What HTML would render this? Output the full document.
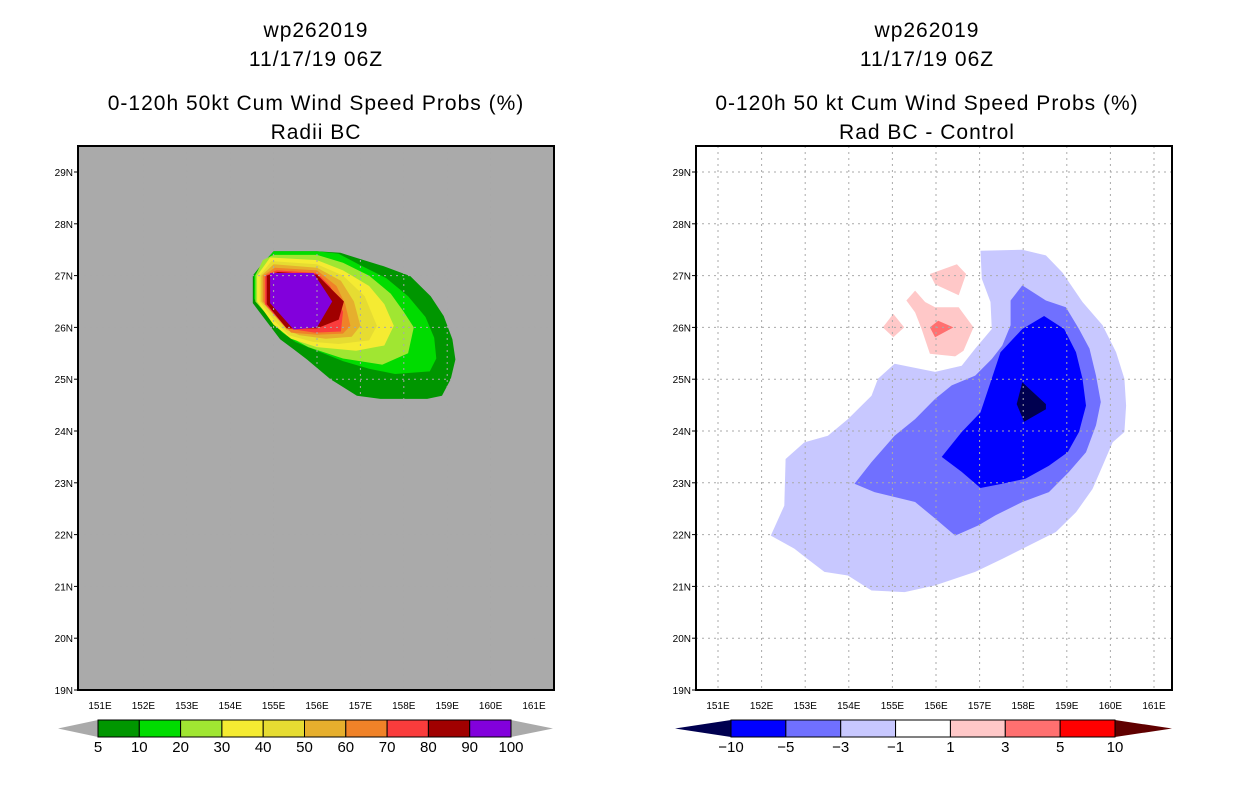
<!DOCTYPE html>
<html><head><meta charset="utf-8"><style>
body{margin:0;background:#fff;width:1236px;height:800px;overflow:hidden}
svg{display:block;font-family:"Liberation Sans",sans-serif}
</style></head><body>
<svg id="svg" width="1236" height="800" viewBox="0 0 1236 800"></svg>
<script>
const lonTicks=[151,152,153,154,155,156,157,158,159,160,161];
const latTicks=[19,20,21,22,23,24,25,26,27,28,29];
const leftLevels=['5','10','20','30','40','50','60','70','80','90','100'];
const leftColors=['#009600','#00dc00','#a0e632','#f5eb32','#e6dc32','#e6af2d','#f08228','#fa3c3c','#a00000','#8200dc'];
const rightLevels=['-10','-5','-3','-1','1','3','5','10'];
const rightColors=['#0000ff','#7070ff','#c8c8ff','#ffffff','#ffc8c8','#ff7070','#ff0000'];
const probShapes=[
 [[155.0,27.47],[156.0,27.47],[156.54,27.44],[156.92,27.34],[157.54,27.18],[158.15,26.99],[158.62,26.6],[158.92,26.22],[159.12,25.77],[159.19,25.38],[159.08,25.0],[158.88,24.68],[158.54,24.62],[157.46,24.62],[156.92,24.68],[156.31,25.0],[155.77,25.38],[155.46,25.58],[155.15,25.77],[154.69,26.28],[154.52,26.47],[154.52,27.0],[154.69,27.18]],
 [[155.0,27.47],[156.0,27.47],[156.5,27.42],[157.0,27.2],[157.6,26.95],[158.1,26.6],[158.5,26.2],[158.7,25.8],[158.75,25.4],[158.6,25.15],[157.8,25.1],[157.2,25.2],[156.6,25.35],[156.0,25.55],[155.5,25.72],[155.2,25.9],[154.7,26.4],[154.55,26.55],[154.55,27.0],[154.72,27.2]],
 [[154.75,27.3],[155.0,27.4],[156.0,27.4],[156.6,27.25],[157.2,27.0],[157.7,26.65],[158.0,26.3],[158.23,26.0],[158.1,25.5],[157.5,25.28],[156.6,25.4],[155.8,25.62],[155.3,25.85],[155.0,26.1],[154.58,26.5],[154.58,27.0]],
 [[154.92,27.35],[156.0,27.3],[156.6,27.1],[157.2,26.8],[157.55,26.45],[157.77,26.03],[157.55,25.65],[156.9,25.55],[156.0,25.62],[155.4,25.78],[155.0,26.05],[154.62,26.5],[154.62,27.0]],
 [[154.95,27.28],[156.0,27.22],[156.6,27.0],[157.1,26.6],[157.38,26.03],[157.2,25.75],[156.5,25.68],[155.9,25.72],[155.35,25.85],[155.05,26.1],[154.68,26.5],[154.68,27.0]],
 [[155.0,27.22],[156.0,27.15],[156.55,26.9],[156.85,26.5],[157.0,26.03],[156.8,25.82],[156.2,25.78],[155.6,25.85],[155.3,25.95],[155.1,26.15],[154.72,26.5],[154.72,27.0]],
 [[155.03,27.15],[156.0,27.1],[156.45,26.8],[156.65,26.45],[156.77,26.03],[156.6,25.88],[156.0,25.86],[155.4,25.9],[155.15,26.15],[154.76,26.5],[154.76,27.0]],
 [[155.07,27.1],[156.0,27.05],[156.3,26.8],[156.6,26.3],[156.55,25.92],[155.95,25.9],[155.3,25.98],[154.8,26.45],[154.8,27.0]],
 [[155.1,27.07],[156.0,27.02],[156.2,26.85],[156.62,26.5],[156.5,26.15],[156.0,25.98],[155.3,25.98],[154.84,26.45],[154.84,27.0]],
 [[154.92,27.05],[155.92,27.05],[156.35,26.5],[156.0,26.0],[155.46,25.96],[154.92,26.47]]
];
const diffShapes=[
 {c:'#c8c8ff',p:[[157.02,27.48],[157.98,27.5],[158.52,27.39],[158.9,27.06],[159.36,26.49],[159.82,26.04],[160.13,25.52],[160.32,25.01],[160.36,24.49],[160.32,23.98],[160.05,23.78],[159.82,23.33],[159.59,22.88],[159.21,22.43],[158.75,22.05],[158.13,21.79],[157.52,21.53],[156.9,21.28],[155.98,21.02],[155.28,20.89],[154.52,20.92],[153.98,21.21],[153.44,21.28],[153.05,21.53],[152.75,21.73],[152.21,21.98],[152.52,22.56],[152.55,23.46],[152.98,23.78],[153.52,23.91],[153.98,24.23],[154.52,24.68],[154.67,25.01],[155.05,25.3],[155.98,25.14],[156.59,25.26],[156.9,25.59],[157.28,25.97],[157.25,26.49],[157.05,26.94]]},
 {c:'#7070ff',p:[[157.98,26.81],[158.52,26.52],[158.98,26.39],[159.28,25.97],[159.52,25.59],[159.67,25.07],[159.78,24.56],[159.67,24.11],[159.44,23.59],[159.05,23.21],[158.59,22.82],[157.98,22.63],[157.36,22.37],[156.98,22.18],[156.44,21.98],[155.98,22.31],[155.52,22.63],[154.59,22.82],[154.13,22.98],[154.52,23.4],[155.05,23.91],[155.52,24.23],[155.98,24.62],[156.36,24.88],[156.9,25.07],[157.28,25.39],[157.52,25.65],[157.71,26.04],[157.71,26.52]]},
 {c:'#0000ff',p:[[158.48,26.22],[158.94,25.97],[159.21,25.52],[159.36,25.01],[159.44,24.49],[159.28,23.98],[159.02,23.59],[158.59,23.33],[158.05,23.08],[157.52,22.98],[157.02,22.9],[156.59,23.21],[156.13,23.5],[156.59,23.98],[157.02,24.36],[157.48,25.52],[157.98,25.97]]},
 {c:'#000050',p:[[157.98,24.94],[158.52,24.52],[158.52,24.42],[158.02,24.18],[157.85,24.52]]},
 {c:'#ffc8c8',p:[[155.86,27.03],[156.48,27.22],[156.69,27.03],[156.52,26.62],[155.98,26.83]]},
 {c:'#ffc8c8',p:[[155.32,26.52],[155.52,26.71],[155.75,26.49],[155.98,26.39],[156.52,26.39],[156.86,26.0],[156.63,25.55],[156.44,25.44],[155.86,25.49],[155.67,25.97],[155.52,26.29]]},
 {c:'#ffc8c8',p:[[154.78,26.0],[155.02,26.26],[155.27,26.0],[155.02,25.81]]},
 {c:'#ff7070',p:[[155.86,26.0],[156.05,26.13],[156.4,26.0],[155.98,25.81]]}
];
const NS='http://www.w3.org/2000/svg';
const svg=document.getElementById('svg');
function mk(tag,attrs,parent){const e=document.createElementNS(NS,tag);for(const k in attrs)e.setAttribute(k,attrs[k]);(parent||svg).appendChild(e);return e;}
function txt(x,y,s,size,anchor,parent){const t=mk('text',{x:x,y:y,'font-size':size,'text-anchor':anchor||'middle',fill:'#000'},parent);t.textContent=s;return t;}
function panel(name,x0,lon151,dx,bg){
  const g=mk('g',{});
  
  
  const X=lon=>lon151+(lon-151)*dx, Y=lat=>690-(lat-19)*51.8;
  const r=mk('rect',{x:x0,y:146,width:476,height:544,fill:bg},g);
  
  
  return {g,X,Y,x0};
}
function drawGrid(P,color){
  lonTicks.forEach(l=>{const e=mk('line',{x1:P.X(l),x2:P.X(l),y1:146,y2:690,stroke:color,'stroke-width':1,'stroke-dasharray':'2,4'},P.g);});
  latTicks.forEach(l=>{const e=mk('line',{x1:P.x0,x2:P.x0+476,y1:P.Y(l),y2:P.Y(l),stroke:color,'stroke-width':1,'stroke-dasharray':'2,4'},P.g);});
}
function axes(P){
  mk('rect',{x:P.x0,y:146,width:476,height:544,fill:'none',stroke:'#000','stroke-width':2},P.g);
  lonTicks.forEach(l=>{const t=txt(P.X(l),709,l+'E',10,'middle',P.g);});
  latTicks.forEach(l=>{const t=txt(P.x0-5,P.Y(l)+4,l+'N',10,'end',P.g);
    mk('line',{x1:P.x0-4,x2:P.x0,y1:P.Y(l),y2:P.Y(l),stroke:'#000'},P.g);});
}
function poly(P,pts,color){
  const e=mk('polygon',{points:pts.map(p=>P.X(p[0]).toFixed(1)+','+P.Y(p[1]).toFixed(1)).join(' '),fill:color},P.g);
  
  
}
function titles(cx,lines){
  const ys=[37,66,110,139];
  lines.forEach((s,i)=>{const t=txt(cx,ys[i],s,21,'middle');t.setAttribute('letter-spacing','1');});
}
const L=panel('left-panel',78,100,43.4,'#aaaaaa');
probShapes.forEach((s,i)=>poly(L,s,leftColors[i]));
drawGrid(L,'#a9a9a9');
axes(L);
titles(316,['wp262019','11/17/19 06Z','0-120h 50kt Cum Wind Speed Probs (%)','Radii BC']);
const R=panel('right-panel',696,718,43.6,'#ffffff');
diffShapes.forEach(s=>poly(R,s.p,s.c));
drawGrid(R,'#aaa');
axes(R);
titles(927,['wp262019','11/17/19 06Z','0-120h 50 kt Cum Wind Speed Probs (%)','Rad BC - Control']);
function colorbar(name,x0,x1,tipL,tipR,colors,labels,lcol,rcol){
  const g=mk('g',{});
  
  
  const y0=720,y1=737,w=(x1-x0)/colors.length;
  mk('polygon',{points:`${tipL},728.5 ${x0},${y0} ${x0},${y1}`,fill:lcol},g);
  mk('polygon',{points:`${tipR},728.5 ${x1},${y0} ${x1},${y1}`,fill:rcol},g);
  colors.forEach((c,i)=>{const r=mk('rect',{x:x0+i*w,y:y0,width:w,height:y1-y0,fill:c,stroke:'#000','stroke-width':1},g);});
  labels.forEach((s,i)=>{const t=txt(x0+i*w,752,s.replace('-','\u2212'),15,'middle',g);});
}
colorbar('left-colorbar',98,511,58,553,leftColors,leftLevels,'#aaaaaa','#aaaaaa');
colorbar('right-colorbar',731,1115,675,1172,rightColors,rightLevels,'#000050','#600000');
</script>
</body></html>
